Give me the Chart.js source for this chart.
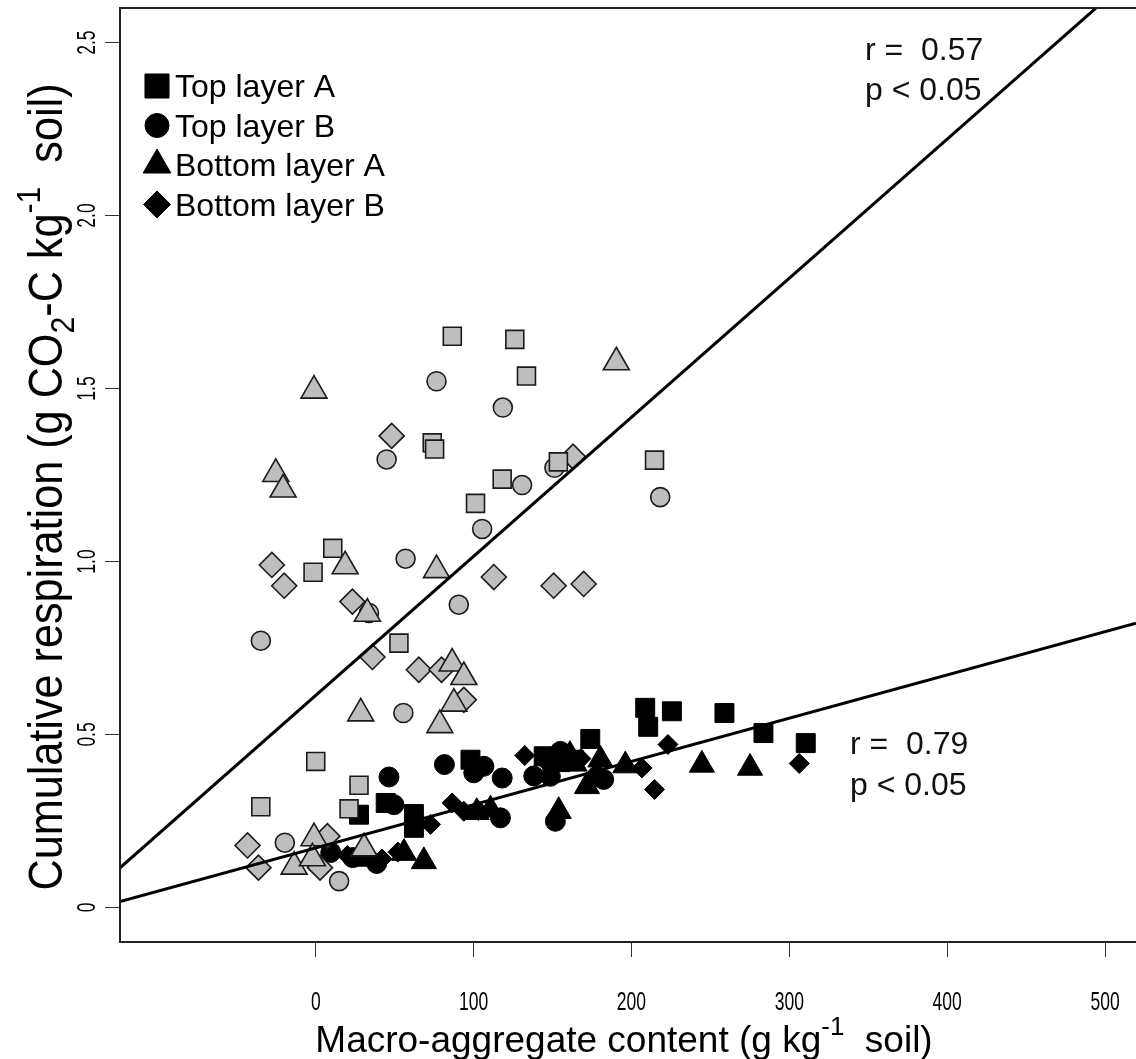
<!DOCTYPE html>
<html>
<head>
<meta charset="utf-8">
<title>Cumulative respiration vs macro-aggregate content</title>
<script src="https://cdn.jsdelivr.net/npm/chart.js@4.4.1/dist/chart.umd.min.js"></script>
<style>
  html, body { margin: 0; padding: 0; background: #ffffff; overflow: hidden; }
  #chart { display: block; }
</style>
</head>
<body>
<canvas id="chart" width="1136" height="1059"></canvas>
<script>
// ---- axis set-up (the plotting region is open on its right-hand side) ----
const X_MIN = -124, X_MAX = 519.6;
const Y_MIN = -0.1, Y_MAX = 2.6;
const xTickValues = [0, 100, 200, 300, 400, 500];
const xTickLabels = ['0', '100', '200', '300', '400', '500'];
const yTickValues = [0, 0.5, 1.0, 1.5, 2.0, 2.5];
const yTickLabels = ['0', '0.5', '1.0', '1.5', '2.0', '2.5'];

const seriesNames = ['Top layer A', 'Top layer B', 'Bottom layer A', 'Bottom layer B'];

// ---- grey symbols ----
const greyTopA_x = [86.5, 126.1, 133.5, 73.8, 75.3, 118.1, 101.2, 214.6, 153.7, 10.8, -1.7, 52.7, 0.0, 27.4, -34.8, 21.1];
const greyTopA_y = [1.651, 1.642, 1.536, 1.343, 1.325, 1.238, 1.168, 1.293, 1.288, 1.038, 0.969, 0.764, 0.422, 0.353, 0.291, 0.285];

const greyTopB_x = [76.5, 44.9, 118.5, 151.2, 130.7, 105.4, 218.2, 56.9, 90.6, -34.8, 33.7, 55.5, -19.6, 14.8];
const greyTopB_y = [1.521, 1.295, 1.445, 1.271, 1.221, 1.094, 1.186, 1.008, 0.875, 0.771, 0.851, 0.562, 0.187, 0.076];

const greyBotA_x = [-1.1, -25.3, -20.7, 18.6, 76.5, 190.4, 28.5, 78.6, 86.4, 93.8, 87.5, 32.7, -1.1, -13.7, 30.6, -2.1];
const greyBotA_y = [1.494, 1.253, 1.208, 0.986, 0.975, 1.576, 0.561, 0.527, 0.705, 0.666, 0.589, 0.849, 0.200, 0.118, 0.171, 0.142];

const greyBotB_x = [48.1, -27.8, -20.0, 23.2, 35.9, 65.3, 79.7, 93.8, -43.2, -36.3, 2.7, 7.4, 163.0, 112.8, 150.7, 169.7];
const greyBotB_y = [1.363, 0.990, 0.930, 0.884, 0.724, 0.687, 0.687, 0.600, 0.179, 0.115, 0.115, 0.206, 1.303, 0.955, 0.930, 0.935];

// ---- black symbols ----
const blackTopA_x = [208.7, 210.6, 225.6, 258.9, 283.6, 310.4, 173.9, 98.0, 144.4, 163.4, 44.3, 27.4, 62.2, 62.2, 155.0];
const blackTopA_y = [0.577, 0.522, 0.567, 0.562, 0.504, 0.475, 0.487, 0.427, 0.437, 0.427, 0.302, 0.268, 0.270, 0.230, 0.420];

const blackTopB_x = [46.4, 81.5, 100.1, 106.5, 118.1, 138.1, 148.6, 155.0, 178.2, 182.4, 151.8, 117.0, 49.5, 9.5, 23.4, 38.6];
const blackTopB_y = [0.377, 0.413, 0.389, 0.408, 0.374, 0.380, 0.379, 0.451, 0.379, 0.370, 0.249, 0.259, 0.297, 0.159, 0.144, 0.127];

const blackBotA_x = [55.9, 68.5, 110.7, 153.9, 171.8, 196.1, 244.6, 275.1, 180.3, 161.0, 33.0, 102.0, 164.0];
const blackBotA_y = [0.157, 0.133, 0.282, 0.278, 0.350, 0.410, 0.412, 0.403, 0.427, 0.440, 0.140, 0.275, 0.415];

const blackBotB_x = [132.4, 86.4, 93.8, 72.7, 206.6, 214.6, 223.1, 306.3, 52.0, 20.0, 103.0, 168.0, 146.0, 42.0];
const blackBotB_y = [0.439, 0.302, 0.278, 0.240, 0.403, 0.341, 0.471, 0.416, 0.160, 0.150, 0.280, 0.430, 0.420, 0.140];

// ---- fitted regression lines ----
const fitGrey  = { intercept: 0.613, slope: 0.00402, r: '0.57', p: '0.05' };
const fitBlack = { intercept: 0.172, slope: 0.00125, r: '0.79', p: '0.05' };

const W = 1136, H = 1059;
const PLOT = { left: 120, top: 8, bottom: 942 };
const GREY = '#bebebe';
const FONT = "'Liberation Sans', Arial, sans-serif";

function pts(xs, ys) { return xs.map((x, i) => ({ x: x, y: ys[i] })); }
function fitLine(f) {
  return [X_MIN, X_MAX].map(x => ({ x: x, y: f.intercept + f.slope * x }));
}

const lineStyle = {
  type: 'line', borderColor: '#000', borderWidth: 3, pointRadius: 0,
  fill: false, tension: 0, showLine: true
};
function greySet(label, xs, ys, style, r) {
  return { label: label, group: 'grey', data: pts(xs, ys), pointStyle: style, pointRadius: r,
    backgroundColor: GREY, borderColor: '#1a1a1a', borderWidth: 1.6, showLine: false };
}
function blackSet(label, xs, ys, style, r) {
  return { label: label, group: 'black', data: pts(xs, ys), pointStyle: style, pointRadius: r,
    backgroundColor: '#000', borderColor: '#000', borderWidth: 1, showLine: false };
}

// earlier datasets are painted on top
const datasets = [
  Object.assign({ label: 'fit grey', group: 'fit', data: fitLine(fitGrey) }, lineStyle),
  Object.assign({ label: 'fit black', group: 'fit', data: fitLine(fitBlack) }, lineStyle),
  greySet(seriesNames[2], greyBotA_x, greyBotA_y, 'triangle', 15),
  greySet(seriesNames[0], greyTopA_x, greyTopA_y, 'rect', 12.7),
  greySet(seriesNames[3], greyBotB_x, greyBotB_y, 'rectRot', 12.5),
  greySet(seriesNames[1], greyTopB_x, greyTopB_y, 'circle', 9.5),
  blackSet(seriesNames[0], blackTopA_x, blackTopA_y, 'rect', 13.4),
  blackSet(seriesNames[1], blackTopB_x, blackTopB_y, 'circle', 10),
  blackSet(seriesNames[2], blackBotA_x, blackBotA_y, 'triangle', 14.5),
  blackSet(seriesNames[3], blackBotB_x, blackBotB_y, 'rectRot', 10)
];

// legend symbols (filled black, slightly larger than the plotted marks)
const legendItems = [
  { text: seriesNames[0], style: 'rect', r: 17 },
  { text: seriesNames[1], style: 'circle', r: 12 },
  { text: seriesNames[2], style: 'triangle', r: 16 },
  { text: seriesNames[3], style: 'rectRot', r: 13.5 }
];

function font(size) { return size + 'px ' + FONT; }

// text made of pieces: [string, relative size, baseline shift in em]
function richText(ctx, parts, cx, cy, size, sx, rotate) {
  ctx.save();
  ctx.translate(cx, cy);
  if (rotate) ctx.rotate(-Math.PI / 2);
  ctx.scale(sx, 1);
  ctx.textAlign = 'left';
  ctx.textBaseline = 'alphabetic';
  ctx.fillStyle = '#000';
  let total = 0;
  const widths = parts.map(p => {
    ctx.font = font(size * p[1]);
    const w = ctx.measureText(p[0]).width;
    total += w;
    return w;
  });
  let x = -total / 2;
  parts.forEach((p, i) => {
    ctx.font = font(size * p[1]);
    ctx.fillText(p[0], x, p[2] * size);
    x += widths[i];
  });
  ctx.restore();
}

function narrowText(ctx, str, x, y, size, sx, rotate) {
  ctx.save();
  ctx.translate(x, y);
  if (rotate) ctx.rotate(-Math.PI / 2);
  ctx.scale(sx, 1);
  ctx.font = font(size);
  ctx.textAlign = 'center';
  ctx.textBaseline = 'middle';
  ctx.fillStyle = '#000';
  ctx.fillText(str, 0, 0);
  ctx.restore();
}

const decorPlugin = {
  id: 'decor',
  afterDraw(chart) {
    const ctx = chart.ctx;
    const a = chart.chartArea;
    const xs = chart.scales.x, ys = chart.scales.y;

    // frame: top, left and bottom sides
    ctx.save();
    ctx.strokeStyle = '#222';
    ctx.lineWidth = 2;
    ctx.beginPath();
    ctx.moveTo(W + 2, a.top);
    ctx.lineTo(a.left, a.top);
    ctx.lineTo(a.left, a.bottom);
    ctx.lineTo(W + 2, a.bottom);
    ctx.stroke();
    ctx.restore();

    // tick labels
    xs.ticks.forEach(t => {
      const i = xTickValues.indexOf(t.value);
      if (i >= 0) narrowText(ctx, xTickLabels[i], xs.getPixelForValue(t.value), 1003, 25, 0.7, false);
    });
    ys.ticks.forEach(t => {
      const i = yTickValues.indexOf(t.value);
      if (i >= 0) narrowText(ctx, yTickLabels[i], 88, ys.getPixelForValue(t.value), 25, 0.7, true);
    });

    // axis titles
    richText(ctx, [['Macro-aggregate content (g kg', 1, 0], ['-1', 0.7, -0.45], ['  soil)', 1, 0]],
      624, 1052, 37, 1, false);
    richText(ctx, [['Cumulative respiration (g CO', 1, 0], ['2', 0.7, 0.25], ['-C kg', 1, 0],
      ['-1', 0.7, -0.45], ['  soil)', 1, 0]], 62, 487, 48, 0.9, true);

    // correlation statistics
    ctx.save();
    ctx.fillStyle = '#111';
    ctx.font = font(32);
    ctx.textAlign = 'left';
    ctx.textBaseline = 'alphabetic';
    ctx.fillText('r =  ' + fitGrey.r, 865, 60);
    ctx.fillText('p < ' + fitGrey.p, 865, 100);
    ctx.fillText('r =  ' + fitBlack.r, 850, 754);
    ctx.fillText('p < ' + fitBlack.p, 850, 795);
    ctx.restore();

    // legend
    ctx.save();
    legendItems.forEach((it, k) => {
      const cy = 86 + k * 39.5;
      ctx.fillStyle = '#000';
      ctx.strokeStyle = '#000';
      ctx.lineWidth = 1;
      Chart.helpers.drawPoint(ctx, { pointStyle: it.style, radius: it.r, rotation: 0, borderWidth: 1 }, 157, cy);
      ctx.font = font(32);
      ctx.textAlign = 'left';
      ctx.textBaseline = 'alphabetic';
      ctx.fillText(it.text, 175, cy + 11);
    });
    ctx.restore();
  }
};

const chart = new Chart(document.getElementById('chart'), {
  type: 'scatter',
  data: { datasets: datasets },
  options: {
    responsive: false,
    animation: false,
    devicePixelRatio: 1,
    layout: { autoPadding: false, padding: { left: 0, top: PLOT.top, right: 0, bottom: 0 } },
    plugins: { legend: { display: false }, tooltip: { enabled: false } },
    scales: {
      x: {
        type: 'linear', min: X_MIN, max: X_MAX,
        afterBuildTicks(s) { s.ticks = xTickValues.map(v => ({ value: v })); },
        afterFit(s) { s.height = H - PLOT.bottom; s.paddingLeft = 0; s.paddingRight = 0; },
        grid: { display: true, drawOnChartArea: false, drawTicks: true, tickLength: 15, color: '#333', lineWidth: 1 },
        border: { display: false },
        ticks: { display: false }
      },
      y: {
        type: 'linear', min: Y_MIN, max: Y_MAX,
        afterBuildTicks(s) { s.ticks = yTickValues.map(v => ({ value: v })); },
        afterFit(s) { s.width = PLOT.left; s.paddingTop = 0; s.paddingBottom = 0; },
        grid: { display: true, drawOnChartArea: false, drawTicks: true, tickLength: 15, color: '#333', lineWidth: 1 },
        border: { display: false },
        ticks: { display: false }
      }
    }
  },
  plugins: [decorPlugin]
});
</script>
</body>
</html>
